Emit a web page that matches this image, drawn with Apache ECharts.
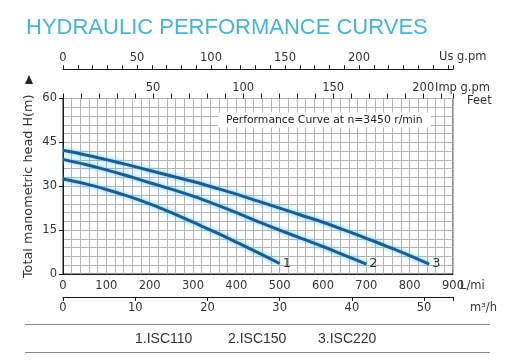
<!DOCTYPE html>
<html>
<head>
<meta charset="utf-8">
<script src="https://cdn.jsdelivr.net/npm/echarts@6/dist/echarts.min.js"></script>
<style>
html,body{margin:0;padding:0;background:#fff;}
#chart{width:511px;height:362px;}
</style>
</head>
<body>
<div id="chart"></div>
<script>
// ---- data ----
var seriesNames = ['1.ISC110', '2.ISC150', '3.ISC220'];
var endMarks = ['1', '2', '3'];
var flow1 = [0, 50, 100, 150, 200, 250, 300, 350, 400, 450, 500];
var head1 = [32.5, 30.9, 28.9, 26.6, 24.0, 21.0, 17.7, 14.4, 10.9, 7.3, 3.6];
var flow2 = [0, 50, 100, 150, 200, 250, 300, 350, 400, 450, 500, 550, 600, 650, 700];
var head2 = [39.2, 37.5, 35.6, 33.5, 31.2, 29.0, 26.6, 23.9, 21.0, 17.9, 15.0, 12.2, 9.4, 6.4, 3.4];
var flow3 = [0, 50, 100, 150, 200, 250, 300, 350, 400, 450, 500, 550, 600, 650, 700, 750, 800, 845];
var head3 = [42.3, 40.8, 39.1, 37.3, 35.4, 33.5, 31.6, 29.5, 27.3, 24.9, 22.5, 20.1, 17.7, 15.0, 12.2, 9.3, 6.3, 3.4];
var lminTicks = [0, 900, 100];      // min, max, step (L/min)
var m3hTicks = [0, 54, 10];         // m3/h
var usTicks = [0, 263.5, 10];       // US g.pm
var impTicks = [0, 216.5, 10];      // Imp g.pm
var headTicks = [0, 60, 15];        // H (m)
var titleText = 'HYDRAULIC PERFORMANCE CURVES';
var noteText = 'Performance Curve at n=3450 r/min';

var chart = echarts.init(document.getElementById('chart'), null, {renderer: 'canvas'});
var FONT = 'DejaVu Sans';
var LBL = {fontFamily: FONT, fontSize: 11.5, color: '#333'};
var GRIDC = '#b4b4b4';

function pairs(xs, ys) { return xs.map(function (x, i) { return [x, ys[i]]; }); }
var flows = [flow1, flow2, flow3];
var heads = [head1, head2, head3];

var series = seriesNames.map(function (n, i) {
  return {
    name: n, type: 'line', xAxisIndex: 0, yAxisIndex: 0,
    data: pairs(flows[i], heads[i]),
    smooth: 0.4, showSymbol: false, symbol: 'none', z: 5,
    lineStyle: {width: 3, color: '#1d5b93', shadowColor: '#4fc6f7', shadowBlur: 5},
    endLabel: {show: true, formatter: endMarks[i], distance: 3, fontFamily: FONT, fontSize: 13, color: '#333'}
  };
});

var legendX = [135, 228, 318];
var graphics = [
  {type: 'polygon', shape: {points: [[29, 75], [25, 84], [33, 84]]}, style: {fill: '#222'}},
  {type: 'text', x: 439, y: 57, style: {text: 'Us g.pm', fontFamily: FONT, fontSize: 11.5, fill: '#333', verticalAlign: 'middle'}},
  {type: 'text', x: 435, y: 88, style: {text: 'Imp g.pm', fontFamily: FONT, fontSize: 11.5, fill: '#333', verticalAlign: 'middle'}},
  {type: 'text', x: 467, y: 101, style: {text: 'Feet', fontFamily: FONT, fontSize: 11.5, fill: '#333', verticalAlign: 'middle'}},
  {type: 'text', x: 460, y: 286, style: {text: 'L/mi', fontFamily: FONT, fontSize: 11.5, fill: '#333', verticalAlign: 'middle'}},
  {type: 'text', x: 470, y: 308, style: {text: 'm³/h', fontFamily: FONT, fontSize: 11.5, fill: '#333', verticalAlign: 'middle'}},
  {type: 'rect', z: 20, shape: {x: 218, y: 112.5, width: 213, height: 15}, style: {fill: '#fff'}},
  {type: 'text', z: 21, x: 226, y: 120.5, style: {text: noteText, fontFamily: FONT, fontSize: 10.8, fill: '#222', verticalAlign: 'middle'}},
  {type: 'line', shape: {x1: 25, y1: 324.5, x2: 490, y2: 324.5}, style: {stroke: '#8a8a8a', lineWidth: 1.2}},
  {type: 'line', shape: {x1: 25, y1: 352.5, x2: 490, y2: 352.5}, style: {stroke: '#8a8a8a', lineWidth: 1.2}}
];
seriesNames.forEach(function (n, i) {
  graphics.push({type: 'text', x: legendX[i], y: 339, style: {text: n, fontFamily: 'Liberation Sans', fontSize: 14, fill: '#333', verticalAlign: 'middle'}});
});

var option = {
  animation: false,
  backgroundColor: '#fff',
  title: {
    text: titleText, left: 21, top: 12,
    textStyle: {fontFamily: 'Liberation Sans', fontSize: 22, fontWeight: 'normal', color: '#45b5da'}
  },
  grid: {left: 63, top: 98.5, width: 390, height: 175.5, show: true, borderColor: '#1a1a1a', borderWidth: 1, containLabel: false},
  xAxis: [
    {
      type: 'value', position: 'bottom', min: lminTicks[0], max: lminTicks[1], interval: lminTicks[2],
      axisLine: {show: true, lineStyle: {color: '#1a1a1a', width: 1}},
      axisTick: {show: false},
      axisLabel: Object.assign({margin: 6}, LBL),
      splitLine: {show: true, lineStyle: {color: GRIDC, width: 1}},
      minorTick: {show: false, splitNumber: 5},
      minorSplitLine: {show: true, lineStyle: {color: GRIDC, width: 1}}
    },
    {
      type: 'value', position: 'bottom', offset: 23, min: m3hTicks[0], max: m3hTicks[1], interval: m3hTicks[2],
      axisLine: {show: true, onZero: false, lineStyle: {color: '#1a1a1a', width: 1}},
      axisTick: {show: true, length: 4, lineStyle: {color: '#1a1a1a'}},
      axisLabel: Object.assign({margin: 5, formatter: function (v) { return v % 10 === 0 ? String(v) : ''; }}, LBL),
      splitLine: {show: false}
    },
    {
      type: 'value', position: 'top', offset: 0, min: impTicks[0], max: impTicks[1], interval: impTicks[2],
      axisLine: {show: false},
      axisTick: {show: true, length: 5, lineStyle: {color: '#1a1a1a'}},
      axisLabel: Object.assign({margin: 4, formatter: function (v) { return (v % 50 === 0 && v > 0) ? String(v) : ''; }}, LBL),
      splitLine: {show: false}
    },
    {
      type: 'value', position: 'top', offset: 29.2, min: usTicks[0], max: usTicks[1], interval: usTicks[2],
      axisLine: {show: true, onZero: false, lineStyle: {color: '#1a1a1a', width: 1}},
      axisTick: {show: true, length: 4, lineStyle: {color: '#1a1a1a'}},
      axisLabel: Object.assign({margin: 5, formatter: function (v) { return (v % 50 === 0 && v <= 200) ? String(v) : ''; }}, LBL),
      splitLine: {show: false}
    }
  ],
  yAxis: [{
    type: 'value', min: headTicks[0], max: headTicks[1], interval: headTicks[2],
    name: 'Total manometric head H(m)', nameLocation: 'middle', nameGap: 28, nameMoveOverlap: false,
    nameTextStyle: {fontFamily: FONT, fontSize: 12.8, color: '#333'},
    axisLine: {show: true, lineStyle: {color: '#1a1a1a', width: 1}},
    axisTick: {show: true, length: 4, lineStyle: {color: '#1a1a1a'}},
    axisLabel: Object.assign({margin: 6}, LBL),
    splitLine: {show: true, lineStyle: {color: GRIDC, width: 1}},
    minorTick: {show: false, splitNumber: 5},
    minorSplitLine: {show: true, lineStyle: {color: GRIDC, width: 1}}
  }],
  graphic: graphics,
  series: series
};
chart.setOption(option);
</script>
</body>
</html>
